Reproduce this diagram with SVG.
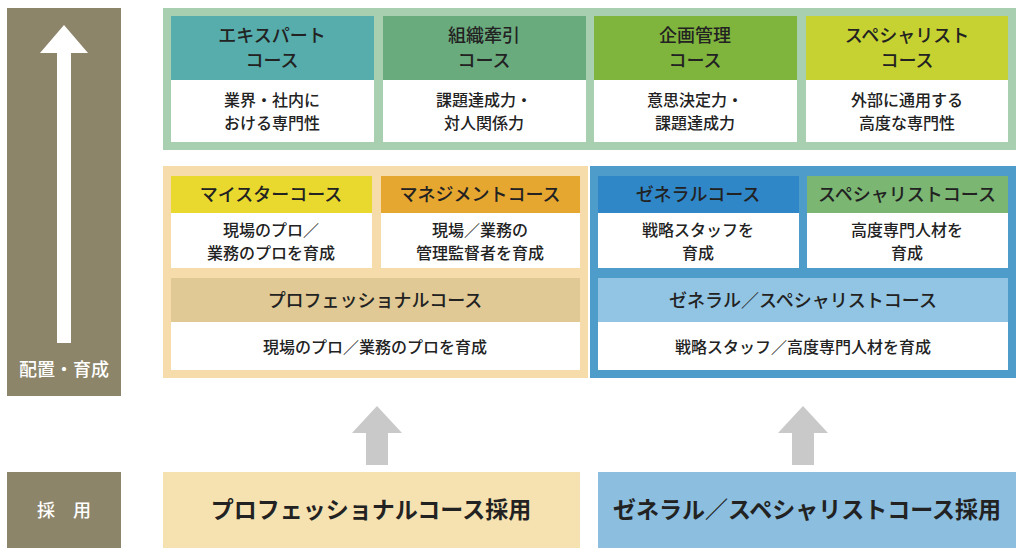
<svg xmlns="http://www.w3.org/2000/svg" width="1024" height="556" viewBox="0 0 1024 556">
<style>
text{font-family:"Noto Sans CJK JP",sans-serif;fill:#222;text-anchor:middle;font-weight:500}
.h{font-size:18px}.s{font-size:16px}.m{font-size:18px}.b{font-size:23px;font-weight:700}
</style>
<rect width="1024" height="556" fill="#fff"/>
<g id="axis">
<rect x="7" y="8" width="114" height="388" fill="#8c856a"/>
<polygon points="64,25 88,53 71,53 71,343 57,343 57,53 40,53" fill="#fff"/>
<text x="64" y="376" class="m" style="fill:#fff">配置・育成</text>
</g>
<g id="top">
<rect x="163" y="8" width="853" height="142" fill="#a8d0b0"/>
<g id="expert"><rect x="171" y="16" width="203" height="64" fill="#56adab"/><rect x="171" y="80" width="203" height="62" fill="#fff"/>
<text x="272" y="42" class="h">エキスパート</text><text x="272" y="67" class="h">コース</text>
<text x="272" y="106" class="s">業界・社内に</text><text x="272" y="129" class="s">おける専門性</text></g>
<g id="leader"><rect x="383" y="16" width="203" height="64" fill="#6aab7e"/><rect x="383" y="80" width="203" height="62" fill="#fff"/>
<text x="484" y="42" class="h">組織牽引</text><text x="484" y="67" class="h">コース</text>
<text x="484" y="106" class="s">課題達成力・</text><text x="484" y="129" class="s">対人関係力</text></g>
<g id="plan"><rect x="594" y="16" width="203" height="64" fill="#7fb43d"/><rect x="594" y="80" width="203" height="62" fill="#fff"/>
<text x="695" y="42" class="h">企画管理</text><text x="695" y="67" class="h">コース</text>
<text x="695" y="106" class="s">意思決定力・</text><text x="695" y="129" class="s">課題達成力</text></g>
<g id="special"><rect x="806" y="16" width="202" height="64" fill="#c5d231"/><rect x="806" y="80" width="202" height="62" fill="#fff"/>
<text x="907" y="42" class="h">スペシャリスト</text><text x="907" y="67" class="h">コース</text>
<text x="907" y="106" class="s">外部に通用する</text><text x="907" y="129" class="s">高度な専門性</text></g>
</g>
<g id="pro">
<rect x="163" y="166" width="425" height="212" fill="#f5dcaa"/>
<g id="meister"><rect x="171" y="176" width="201" height="37" fill="#e9d92f"/><rect x="171" y="213" width="201" height="55" fill="#fff"/>
<text x="271" y="201" class="m">マイスターコース</text><text x="271" y="236" class="s">現場のプロ／</text><text x="271" y="259" class="s">業務のプロを育成</text></g>
<g id="mgmt"><rect x="381" y="176" width="199" height="37" fill="#e6a731"/><rect x="381" y="213" width="199" height="55" fill="#fff"/>
<text x="480" y="201" class="m">マネジメントコース</text><text x="480" y="236" class="s">現場／業務の</text><text x="480" y="259" class="s">管理監督者を育成</text></g>
<g id="procourse"><rect x="171" y="278" width="409" height="44" fill="#e0c994"/><rect x="171" y="322" width="409" height="48" fill="#fff"/>
<text x="375" y="307" class="m">プロフェッショナルコース</text><text x="375" y="353" class="s">現場のプロ／業務のプロを育成</text></g>
</g>
<g id="gen">
<rect x="590" y="166" width="426" height="212" fill="#4d9cc9"/>
<g id="general"><rect x="598" y="176" width="201" height="37" fill="#2f87c8"/><rect x="598" y="213" width="201" height="55" fill="#fff"/>
<text x="698" y="201" class="m">ゼネラルコース</text><text x="698" y="236" class="s">戦略スタッフを</text><text x="698" y="259" class="s">育成</text></g>
<g id="spec"><rect x="807" y="176" width="201" height="37" fill="#7bb672"/><rect x="807" y="213" width="201" height="55" fill="#fff"/>
<text x="907" y="201" class="m">スペシャリストコース</text><text x="907" y="236" class="s">高度専門人材を</text><text x="907" y="259" class="s">育成</text></g>
<g id="gencourse"><rect x="598" y="278" width="410" height="44" fill="#92c5e3"/><rect x="598" y="322" width="410" height="48" fill="#fff"/>
<text x="803" y="307" class="m">ゼネラル／スペシャリストコース</text><text x="803" y="353" class="s">戦略スタッフ／高度専門人材を育成</text></g>
</g>
<g id="connectors" fill="#c9c9c9">
<polygon points="377,406 402,433 388,433 388,465 366,465 366,433 352,433"/>
<polygon points="803,406 828,433 814,433 814,465 792,465 792,433 778,433"/>
</g>
<g id="hire"><rect x="7" y="472" width="114" height="76" fill="#8c856a"/><text x="64" y="517" class="m" style="fill:#fff">採　用</text></g>
<g id="hirepro"><rect x="163" y="472" width="417" height="76" fill="#f6e2b1"/><text x="371" y="518" class="b">プロフェッショナルコース採用</text></g>
<g id="hiregen"><rect x="598" y="472" width="418" height="76" fill="#8bbedf"/><text x="807" y="518" class="b">ゼネラル／スペシャリストコース採用</text></g>
</svg>
